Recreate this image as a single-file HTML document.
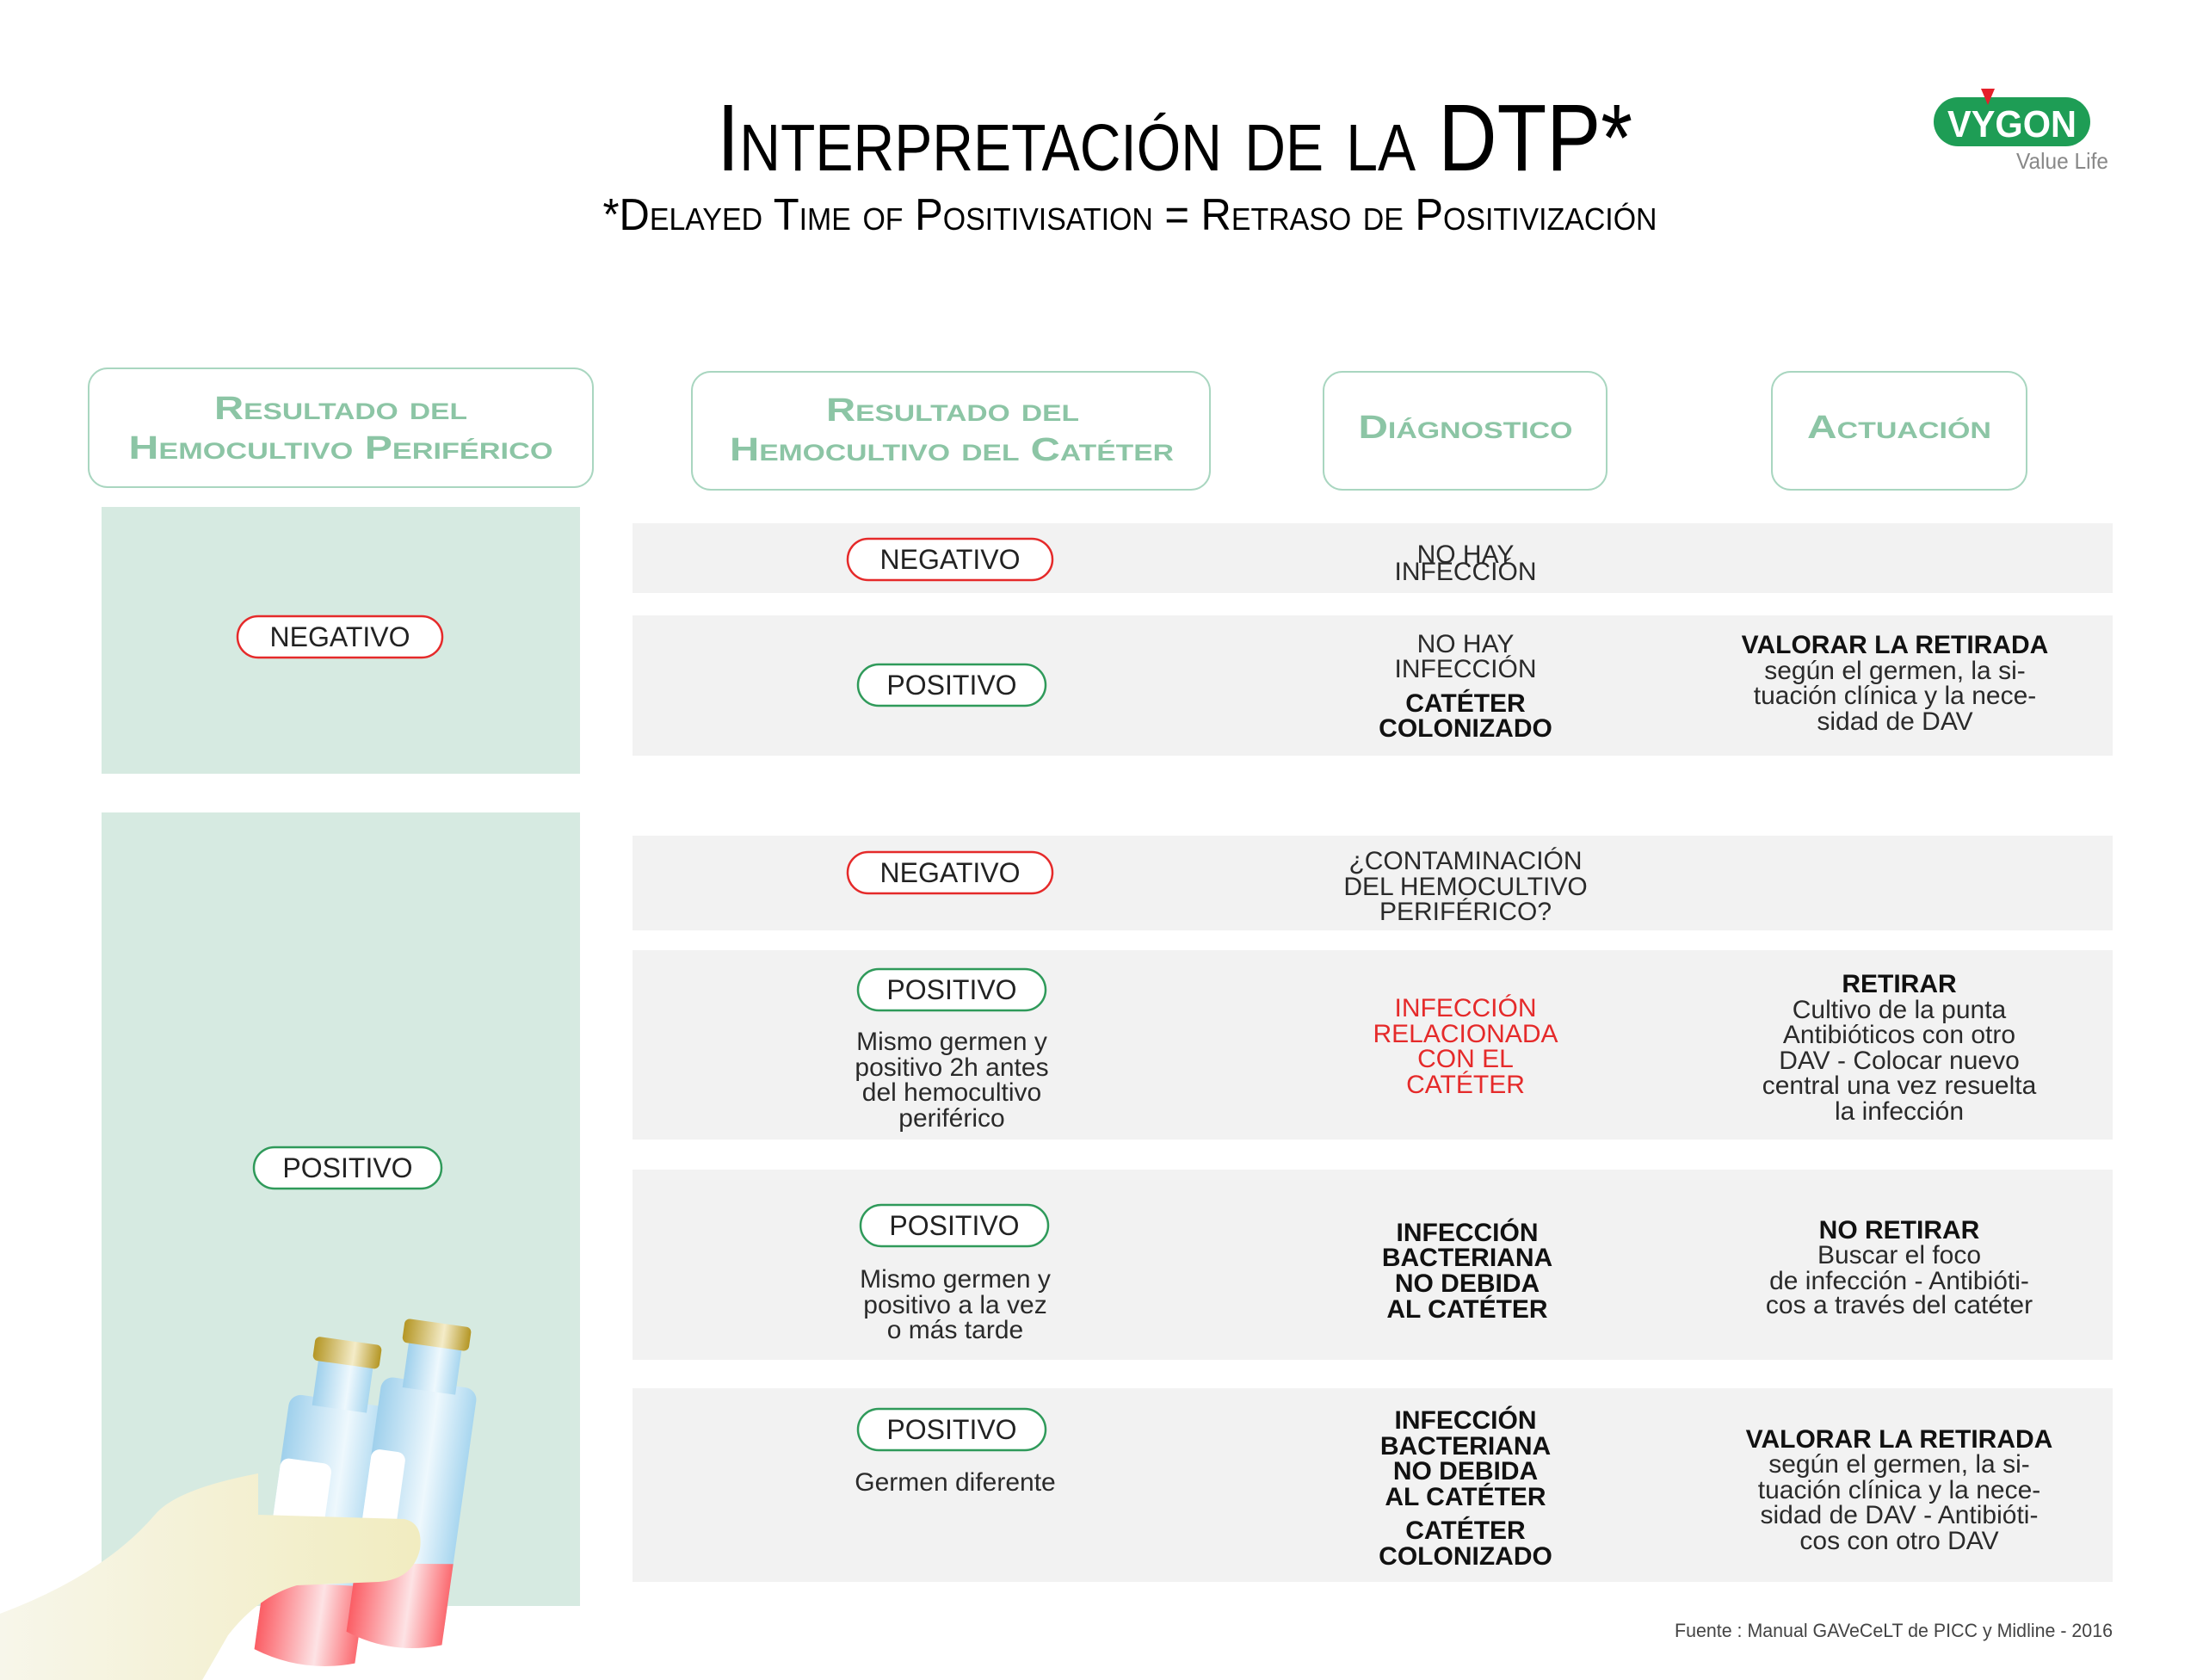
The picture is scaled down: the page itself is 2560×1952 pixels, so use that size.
<!DOCTYPE html>
<html><head><meta charset="utf-8"><style>
html,body{margin:0;padding:0;background:#fff}
svg{display:block}
text{font-family:"Liberation Sans",sans-serif}
.b{font-size:30px;fill:#2a2a2a;text-anchor:middle}
.bb{font-size:30px;fill:#111;text-anchor:middle;font-weight:bold}
.r{font-size:30px;fill:#e52a2a;text-anchor:middle}
.h{font-size:38px;fill:#8cc5a5;font-weight:bold;font-variant:small-caps;text-anchor:middle}
.p{font-size:32px;fill:#222;text-anchor:middle}
</style></head><body>
<svg width="2560" height="1952" viewBox="0 0 2560 1952" xmlns="http://www.w3.org/2000/svg">
<defs>
<linearGradient id="hand" x1="0" y1="0" x2="1" y2="0"><stop offset="0" stop-color="#f7f6ea"/><stop offset="1" stop-color="#f1ecc0"/></linearGradient>
<linearGradient id="blue" x1="0" y1="0" x2="1" y2="0"><stop offset="0" stop-color="#9fd0ec"/><stop offset="0.6" stop-color="#eef8fd"/><stop offset="1" stop-color="#a8d6ef"/></linearGradient>
<linearGradient id="red" x1="0" y1="0" x2="1" y2="0"><stop offset="0" stop-color="#fb5d64"/><stop offset="0.6" stop-color="#fde3e5"/><stop offset="1" stop-color="#fb6a70"/></linearGradient>
<linearGradient id="gold" x1="0" y1="0" x2="1" y2="0"><stop offset="0" stop-color="#b49624"/><stop offset="0.6" stop-color="#f4ecc8"/><stop offset="1" stop-color="#b49624"/></linearGradient>
</defs>

<!-- Title -->
<text x="1365" y="198" text-anchor="middle" textLength="1064" lengthAdjust="spacingAndGlyphs" style="font-size:110px;font-variant:small-caps;fill:#000">Interpretación de la DTP*</text>
<text x="1313" y="267" text-anchor="middle" textLength="1225" lengthAdjust="spacingAndGlyphs" style="font-size:52px;font-variant:small-caps;fill:#000">*Delayed Time of Positivisation = Retraso de Positivización</text>

<!-- Logo -->
<rect x="2247" y="113" width="182" height="57" rx="28.5" fill="#1e9d55"/>
<text x="2338" y="159" text-anchor="middle" textLength="150" lengthAdjust="spacingAndGlyphs" style="font-size:44px;font-weight:bold;fill:#fff">VYGON</text>
<polygon points="2302,103 2318,103 2310,122" fill="#e4202a"/>
<text x="2450" y="196" text-anchor="end" textLength="107" lengthAdjust="spacingAndGlyphs" style="font-size:26px;fill:#888">Value Life</text>

<!-- Header boxes -->
<g fill="#fff" stroke="#a9d6c0" stroke-width="2">
<rect x="103" y="428" width="586" height="138" rx="22"/>
<rect x="804" y="432" width="602" height="137" rx="22"/>
<rect x="1538" y="432" width="329" height="137" rx="22"/>
<rect x="2059" y="432" width="296" height="137" rx="22"/>
</g>
<text class="h" x="396" y="487" textLength="294" lengthAdjust="spacingAndGlyphs">Resultado del</text>
<text class="h" x="396" y="533" textLength="493" lengthAdjust="spacingAndGlyphs">Hemocultivo Periférico</text>
<text class="h" x="1107" y="489" textLength="294" lengthAdjust="spacingAndGlyphs">Resultado del</text>
<text class="h" x="1106" y="535" textLength="516" lengthAdjust="spacingAndGlyphs">Hemocultivo del Catéter</text>
<text class="h" x="1703" y="509" textLength="249" lengthAdjust="spacingAndGlyphs">Diágnostico</text>
<text class="h" x="2207" y="509" textLength="214" lengthAdjust="spacingAndGlyphs">Actuación</text>

<!-- Left green panels -->
<rect x="118" y="589" width="556" height="310" fill="#d6eae1"/>
<rect x="118" y="944" width="556" height="922" fill="#d6eae1"/>

<!-- Gray rows -->
<g fill="#f2f2f2">
<rect x="735" y="608" width="1720" height="81"/>
<rect x="735" y="715" width="1720" height="163"/>
<rect x="735" y="971" width="1720" height="110"/>
<rect x="735" y="1104" width="1720" height="220"/>
<rect x="735" y="1359" width="1720" height="221"/>
<rect x="735" y="1613" width="1720" height="225"/>
</g>

<!-- Pills -->
<g fill="#fff" stroke-width="2.5">
<rect x="276" y="716" width="238" height="48" rx="24" stroke="#e52a2a"/>
<rect x="295" y="1333" width="218" height="48" rx="24" stroke="#2f9a5a"/>
<rect x="985" y="626" width="238" height="48" rx="24" stroke="#e52a2a"/>
<rect x="997" y="772" width="218" height="48" rx="24" stroke="#2f9a5a"/>
<rect x="985" y="990" width="238" height="48" rx="24" stroke="#e52a2a"/>
<rect x="997" y="1126" width="218" height="48" rx="24" stroke="#2f9a5a"/>
<rect x="1000" y="1400" width="218" height="48" rx="24" stroke="#2f9a5a"/>
<rect x="997" y="1637" width="218" height="48" rx="24" stroke="#2f9a5a"/>
</g>
<text class="p" x="395" y="751">NEGATIVO</text>
<text class="p" x="404" y="1368">POSITIVO</text>
<text class="p" x="1104" y="661">NEGATIVO</text>
<text class="p" x="1106" y="807">POSITIVO</text>
<text class="p" x="1104" y="1025">NEGATIVO</text>
<text class="p" x="1106" y="1161">POSITIVO</text>
<text class="p" x="1109" y="1435">POSITIVO</text>
<text class="p" x="1106" y="1672">POSITIVO</text>

<!-- Row 1 -->
<text class="b" x="1703" y="654">NO HAY</text>
<text class="b" x="1703" y="674">INFECCIÓN</text>
<!-- Row 2 -->
<text class="b" x="1703" y="758">NO HAY</text>
<text class="b" x="1703" y="787">INFECCIÓN</text>
<text class="bb" x="1703" y="827">CATÉTER</text>
<text class="bb" x="1703" y="856">COLONIZADO</text>
<text class="bb" x="2202" y="759">VALORAR LA RETIRADA</text>
<text class="b" x="2202" y="789">según el germen, la si-</text>
<text class="b" x="2202" y="818">tuación clínica y la nece-</text>
<text class="b" x="2202" y="848">sidad de DAV</text>
<!-- Row 3 -->
<text class="b" x="1703" y="1010">¿CONTAMINACIÓN</text>
<text class="b" x="1703" y="1040">DEL HEMOCULTIVO</text>
<text class="b" x="1703" y="1069">PERIFÉRICO?</text>
<!-- Row 4 -->
<text class="b" x="1106" y="1220">Mismo germen y</text>
<text class="b" x="1106" y="1250">positivo 2h antes</text>
<text class="b" x="1106" y="1279">del hemocultivo</text>
<text class="b" x="1106" y="1309">periférico</text>
<text class="r" x="1703" y="1181">INFECCIÓN</text>
<text class="r" x="1703" y="1211">RELACIONADA</text>
<text class="r" x="1703" y="1240">CON EL</text>
<text class="r" x="1703" y="1270">CATÉTER</text>
<text class="bb" x="2207" y="1153">RETIRAR</text>
<text class="b" x="2207" y="1183">Cultivo de la punta</text>
<text class="b" x="2207" y="1212">Antibióticos con otro</text>
<text class="b" x="2207" y="1242">DAV - Colocar nuevo</text>
<text class="b" x="2207" y="1271">central una vez resuelta</text>
<text class="b" x="2207" y="1301">la infección</text>
<!-- Row 5 -->
<text class="b" x="1110" y="1496">Mismo germen y</text>
<text class="b" x="1110" y="1526">positivo a la vez</text>
<text class="b" x="1110" y="1555">o más tarde</text>
<text class="bb" x="1705" y="1442">INFECCIÓN</text>
<text class="bb" x="1705" y="1471">BACTERIANA</text>
<text class="bb" x="1705" y="1501">NO DEBIDA</text>
<text class="bb" x="1705" y="1531">AL CATÉTER</text>
<text class="bb" x="2207" y="1439">NO RETIRAR</text>
<text class="b" x="2207" y="1468">Buscar el foco</text>
<text class="b" x="2207" y="1498">de infección - Antibióti-</text>
<text class="b" x="2207" y="1526">cos a través del catéter</text>
<!-- Row 6 -->
<text class="b" x="1110" y="1732">Germen diferente</text>
<text class="bb" x="1703" y="1660">INFECCIÓN</text>
<text class="bb" x="1703" y="1690">BACTERIANA</text>
<text class="bb" x="1703" y="1719">NO DEBIDA</text>
<text class="bb" x="1703" y="1749">AL CATÉTER</text>
<text class="bb" x="1703" y="1788">CATÉTER</text>
<text class="bb" x="1703" y="1818">COLONIZADO</text>
<text class="bb" x="2207" y="1682">VALORAR LA RETIRADA</text>
<text class="b" x="2207" y="1711">según el germen, la si-</text>
<text class="b" x="2207" y="1741">tuación clínica y la nece-</text>
<text class="b" x="2207" y="1770">sidad de DAV - Antibióti-</text>
<text class="b" x="2207" y="1800">cos con otro DAV</text>

<!-- Footer -->
<text x="2455" y="1902" text-anchor="end" textLength="509" lengthAdjust="spacingAndGlyphs" style="font-size:22px;fill:#444">Fuente : Manual GAVeCeLT de PICC y Midline - 2016</text>

<!-- Vials -->
<g transform="rotate(8 370 1760)">
<rect x="318" y="1625" width="118" height="300" rx="14" fill="url(#blue)"/>
<rect x="345" y="1575" width="64" height="60" fill="url(#blue)"/>
<rect x="338" y="1555" width="78" height="28" rx="6" fill="url(#gold)"/>
<rect x="318" y="1700" width="60" height="150" rx="10" fill="#fff"/>
<path d="M318 1845 L436 1835 L436 1925 Q377 1945 318 1925 Z" fill="url(#red)"/>
</g>
<g transform="rotate(8 480 1740)">
<rect x="425" y="1605" width="112" height="300" rx="14" fill="url(#blue)"/>
<rect x="450" y="1555" width="62" height="60" fill="url(#blue)"/>
<rect x="442" y="1535" width="78" height="28" rx="6" fill="url(#gold)"/>
<rect x="425" y="1690" width="40" height="150" rx="10" fill="#fff"/>
<path d="M425 1825 L537 1810 L537 1905 Q481 1925 425 1905 Z" fill="url(#red)"/>
</g>
<!-- Hand -->
<path d="M0 1875 Q120 1830 180 1760 Q205 1730 300 1712 L300 1760 L470 1765 Q492 1770 488 1800 Q480 1835 440 1838 L345 1842 Q300 1855 265 1900 L235 1952 L0 1952 Z" fill="url(#hand)"/>
</svg>
</body></html>
